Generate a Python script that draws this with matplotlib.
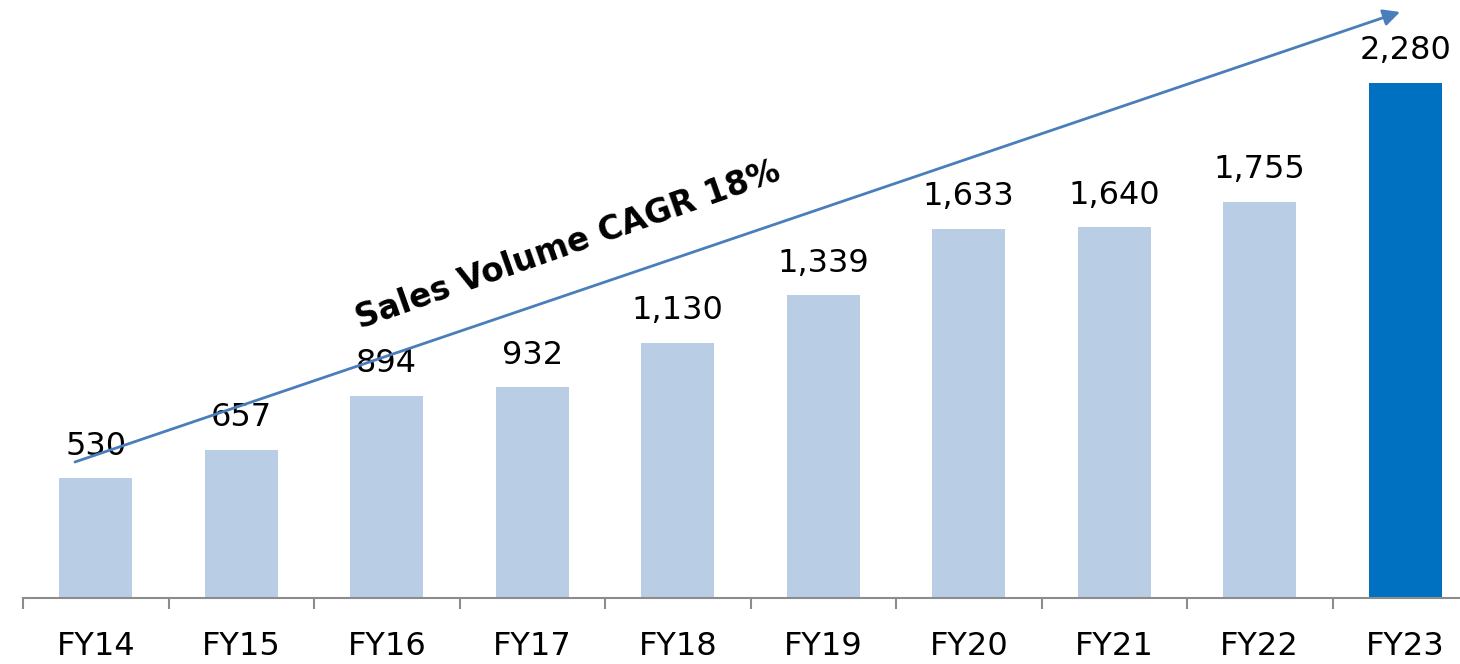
import matplotlib.pyplot as plt
import numpy as np

# sales volume by fiscal year
years = ["FY14", "FY15", "FY16", "FY17", "FY18", "FY19", "FY20", "FY21", "FY22", "FY23"]
volume = [530, 657, 894, 932, 1130, 1339, 1633, 1640, 1755, 2280]
value_labels = ["530", "657", "894", "932", "1,130", "1,339", "1,633", "1,640", "1,755", "2,280"]
cagr_text = "Sales Volume CAGR 18%"

light_blue = "#B9CDE5"
dark_blue = "#0070C0"
arrow_color = "#4A7EBB"
axis_gray = "#8C8C8C"

fig = plt.figure(figsize=(14.6, 6.64), dpi=100)
ax = fig.add_axes([23 / 1460, 66 / 664, 1437 / 1460, 598 / 664])

x = np.arange(len(years))
colors = [light_blue] * (len(years) - 1) + [dark_blue]
bars = ax.bar(x, volume, width=0.5, color=colors, zorder=2)

for rect, lab in zip(bars, value_labels):
    ax.annotate(lab, (rect.get_x() + rect.get_width() / 2, rect.get_height()),
                xytext=(0, 12), textcoords="offset points",
                ha="center", va="bottom", fontsize=23, color="black")

# growth arrow
ax.annotate("", xy=(8.964, 2594), xytext=(-0.143, 602),
            arrowprops=dict(arrowstyle="-|>", color=arrow_color, lw=2,
                            mutation_scale=25, shrinkA=0, shrinkB=0),
            zorder=3)
ax.text(3.246, 1563, cagr_text, rotation=19.5, rotation_mode="anchor",
        ha="center", va="center", fontsize=23.5, fontweight="bold", color="black")

ax.set_xticks(x)
ax.set_xticklabels(years, fontsize=23)
ax.set_xticks(np.arange(-0.5, len(years) + 0.5, 1), minor=True)
ax.tick_params(axis="x", which="major", length=0, pad=24)
ax.tick_params(axis="x", which="minor", length=8, width=1.5, color=axis_gray)
ax.set_yticks([])

# limits last, set_xticks would widen them
ax.set_xlim(-0.5, 9.376)
ax.set_ylim(0, 2647)

for side in ["top", "right", "left"]:
    ax.spines[side].set_visible(False)
ax.spines["bottom"].set_color(axis_gray)
ax.spines["bottom"].set_linewidth(1.5)

plt.savefig("out.png", dpi=100)
